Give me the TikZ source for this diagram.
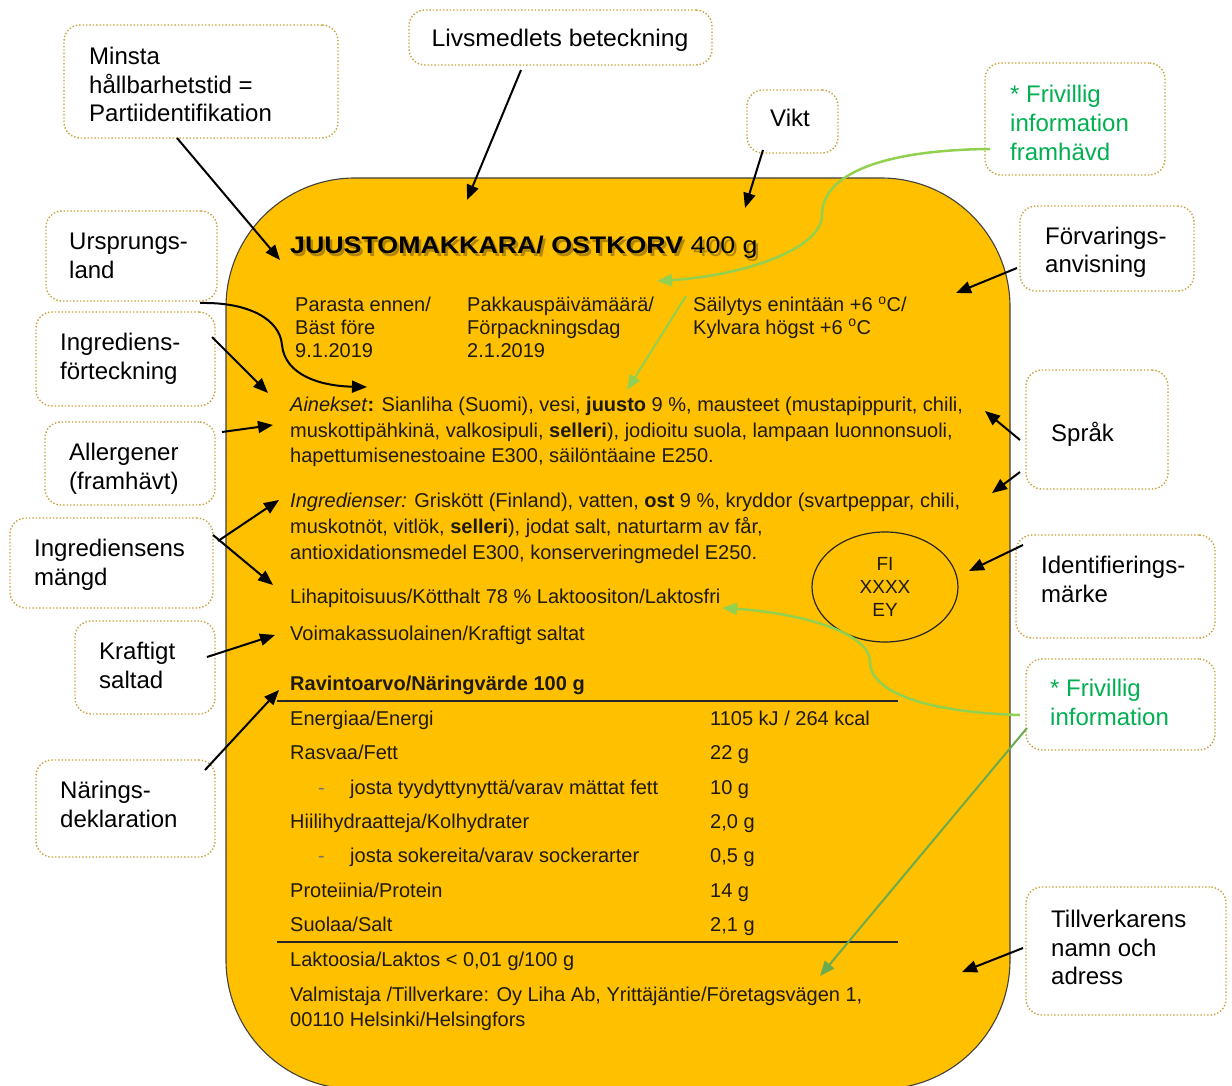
\documentclass[tikz,border=0pt]{standalone}
\usepackage{fontspec}
\setmainfont{Liberation Sans}
\usetikzlibrary{arrows.meta,shapes.geometric}
\definecolor{labelyellow}{HTML}{FFC000}
\definecolor{boxgold}{HTML}{C9A13A}
\definecolor{frivgreen}{HTML}{00B050}
\definecolor{arrgreen}{HTML}{92D050}
\definecolor{arrgreendark}{HTML}{6AAB4F}
\definecolor{bodytext}{HTML}{1E1A12}
\newcommand{\titletext}{\scalebox{1.115}[1]{\textbf{JUUSTOMAKKARA/ OSTKORV} 400 g}}
\begin{document}
\begin{tikzpicture}[x=1pt,y=-1pt,
  lblbox/.style={draw=boxgold, dotted, line width=1.4pt, rounded corners=16pt, inner sep=0pt},
  lt/.style={anchor=base west, inner sep=0pt, text=black, font=\fontsize{24}{29}\selectfont},
  gt/.style={lt, text=frivgreen},
  bt/.style={anchor=base west, inner sep=0pt, text=bodytext, font=\fontsize{20}{24}\selectfont},
  tt/.style={anchor=base west, inner sep=0pt, font=\fontsize{24}{28}\selectfont},
  blk/.style={-{Triangle[length=15pt,width=12pt]}, line width=2pt, black},
  grn/.style={-{Triangle[length=15pt,width=12pt]}, line width=2.5pt, arrgreen},
  grnd/.style={-{Triangle[length=15pt,width=12pt]}, line width=2pt, arrgreendark},
  rule/.style={line width=1.6pt, black!85}
]
\useasboundingbox (0,0) rectangle (1232,1086);
\clip (0,0) rectangle (1232,1086);

% label shape
\draw[fill=labelyellow, draw=black!75, line width=1.1pt, rounded corners=129pt]
  (226,178) rectangle (1010,1089);

% title with soft shadow
\node[tt, text=black, opacity=0.3] (tshadow) at (292.5,256.5) {\titletext};
\node[tt, text=black] (title) at (290,254) {\titletext};

% dates / storage
\node[bt] (bf1) at (295,312) {Parasta ennen/};
\node[bt] (bf2) at (295,334.5) {Bäst före};
\node[bt] (bf3) at (295,357.5) {9.1.2019};
\node[bt] (pk1) at (467,312) {Pakkauspäivämäärä/};
\node[bt] (pk2) at (467,334.5) {Förpackningsdag};
\node[bt] (pk3) at (467,357.5) {2.1.2019};
\node[bt] (st1) at (693,312) {Säilytys enintään +6 \textsuperscript{o}C/};
\node[bt] (st2) at (693,334.5) {Kylvara högst +6 \textsuperscript{o}C};

% ingredients
\node[bt] (fi1) at (290,411) {\textit{Ainekset}\textbf{:} Sianliha (Suomi), vesi, \textbf{juusto} 9 \%, mausteet (mustapippurit, chili,};
\node[bt] (fi2) at (290,437) {muskottipähkinä, valkosipuli, \textbf{selleri}), jodioitu suola, lampaan luonnonsuoli,};
\node[bt] (fi3) at (290,462) {hapettumisenestoaine E300, säilöntäaine E250.};
\node[bt] (sv1) at (290,507) {\textit{Ingredienser:} Griskött (Finland), vatten, \textbf{ost} 9 \%, kryddor (svartpeppar, chili,};
\node[bt] (sv2) at (290,533) {muskotnöt, vitlök, \textbf{selleri}), jodat salt, naturtarm av får,};
\node[bt] (sv3) at (290,559) {antioxidationsmedel E300, konserveringmedel E250.};
\node[bt] (meat) at (290,603) {Lihapitoisuus/Kötthalt 78 \% Laktoositon/Laktosfri};
\node[bt] (salt) at (290,640) {Voimakassuolainen/Kraftigt saltat};

% identification mark
\node[draw=black!85, line width=1.2pt, ellipse, minimum width=146pt, minimum height=110pt, inner sep=0pt,
  align=center, text=bodytext, font=\fontsize{19}{23}\selectfont] (mark) at (885,587) {FI\\XXXX\\EY};

% nutrition table
\node[bt, font=\fontsize{20}{24}\selectfont\bfseries] (nhead) at (290,690.5) {Ravintoarvo/Näringvärde 100 g};
\coordinate (r1a) at (277,701);
\coordinate (r1b) at (898,701);
\draw[rule] (r1a) -- (r1b);
\node[bt] (n1) at (290,725) {Energiaa/Energi};
\node[bt] (v1) at (710,725) {1105 kJ / 264 kcal};
\node[bt] (n2) at (290,759.5) {Rasvaa/Fett};
\node[bt] (v2) at (710,759.5) {22 g};
\node[bt, text=black!55] (d3) at (318,794) {-};
\node[bt] (n3) at (350,794) {josta tyydyttynyttä/varav mättat fett};
\node[bt] (v3) at (710,794) {10 g};
\node[bt] (n4) at (290,828.5) {Hiilihydraatteja/Kolhydrater};
\node[bt] (v4) at (710,828.5) {2,0 g};
\node[bt, text=black!55] (d5) at (318,862.5) {-};
\node[bt] (n5) at (350,862.5) {josta sokereita/varav sockerarter};
\node[bt] (v5) at (710,862.5) {0,5 g};
\node[bt] (n6) at (290,897) {Proteiinia/Protein};
\node[bt] (v6) at (710,897) {14 g};
\node[bt] (n7) at (290,931) {Suolaa/Salt};
\node[bt] (v7) at (710,931) {2,1 g};
\coordinate (r2a) at (277,942);
\coordinate (r2b) at (898,942);
\draw[rule] (r2a) -- (r2b);
\node[bt] (lakt) at (290,966) {Laktoosia/Laktos < 0,01 g/100 g};
\node[bt] (man1) at (290,1001) {Valmistaja /Tillverkare: Oy Liha Ab, Yrittäjäntie/Företagsvägen 1,};
\node[bt] (man2) at (290,1026) {00110 Helsinki/Helsingfors};

% callout boxes
\node[lblbox, minimum width=274pt, minimum height=113pt] (minsta) at (201,81.5) {};
\node[lblbox, minimum width=303pt, minimum height=55pt] (livs) at (560.5,37.5) {};
\node[lblbox, minimum width=91pt, minimum height=63pt] (vikt) at (792.5,121.5) {};
\node[lblbox, minimum width=180pt, minimum height=112pt] (fram) at (1075,119) {};
\node[lblbox, minimum width=174pt, minimum height=85pt] (forv) at (1107,248.5) {};
\node[lblbox, minimum width=171pt, minimum height=90pt] (urs) at (131.5,256) {};
\node[lblbox, minimum width=179pt, minimum height=94pt] (ingf) at (125.5,359) {};
\node[lblbox, minimum width=170pt, minimum height=83pt] (allerg) at (130,463.5) {};
\node[lblbox, minimum width=203pt, minimum height=90pt] (ingm) at (111.5,563) {};
\node[lblbox, minimum width=140pt, minimum height=93pt] (kraf) at (145,667.5) {};
\node[lblbox, minimum width=179pt, minimum height=97pt] (nar) at (125.5,808.5) {};
\node[lblbox, minimum width=142pt, minimum height=119pt] (sprak) at (1097,429.5) {};
\node[lblbox, minimum width=199pt, minimum height=103pt] (ident) at (1115.5,586.5) {};
\node[lblbox, minimum width=189pt, minimum height=91pt] (friv2) at (1120.5,704.5) {};
\node[lblbox, minimum width=200pt, minimum height=128pt] (till) at (1126,951) {};

% callout texts
\node[lt] (minsta1) at (89,64.5) {Minsta};
\node[lt] (minsta2) at (89,93.5) {hållbarhetstid =};
\node[lt] (minsta3) at (89,121.5) {Partiidentifikation};
\node[lt, anchor=base] (livs1) at (560,46.5) {\scalebox{1.03}[1]{Livsmedlets beteckning}};
\node[lt, anchor=base] (vikt1) at (790,126.5) {Vikt};
\node[gt] (fram1) at (1010,102.5) {* Frivillig};
\node[gt] (fram2) at (1010,131.5) {information};
\node[gt] (fram3) at (1010,160.5) {framhävd};
\node[lt] (forv1) at (1045,244.5) {Förvarings-};
\node[lt] (forv2) at (1045,272.5) {anvisning};
\node[lt] (urs1) at (69,249.5) {Ursprungs-};
\node[lt] (urs2) at (69,278.5) {land};
\node[lt] (ingf1) at (60,350.5) {Ingrediens-};
\node[lt] (ingf2) at (60,379.5) {förteckning};
\node[lt] (allerg1) at (69,460.5) {Allergener};
\node[lt] (allerg2) at (69,489.5) {(framhävt)};
\node[lt] (ingm1) at (34,556.5) {Ingrediensens};
\node[lt] (ingm2) at (34,585.5) {mängd};
\node[lt] (kraf1) at (99,659.5) {Kraftigt};
\node[lt] (kraf2) at (99,688.5) {saltad};
\node[lt] (nar1) at (60,798.5) {Närings-};
\node[lt] (nar2) at (60,827.5) {deklaration};
\node[lt] (sprak1) at (1051,441.5) {Språk};
\node[lt] (ident1) at (1041,573.5) {Identifierings-};
\node[lt] (ident2) at (1041,602.5) {märke};
\node[gt] (friv21) at (1050,696.5) {* Frivillig};
\node[gt] (friv22) at (1050,725.5) {information};
\node[lt] (till1) at (1051,927.5) {Tillverkarens};
\node[lt] (till2) at (1051,956.5) {namn och};
\node[lt] (till3) at (1051,984.5) {adress};

% connector end points
\coordinate (aS) at (177,138);   \coordinate (aE) at (280,260);
\coordinate (bS) at (521,70);    \coordinate (bE) at (467,200);
\coordinate (cS) at (763,150);   \coordinate (cE) at (745,208);
\coordinate (dS) at (1017,268);  \coordinate (dE) at (956,293);
\coordinate (eS) at (200,303);   \coordinate (eE) at (367,387);
\coordinate (fS) at (212,337);   \coordinate (fE) at (268,393);
\coordinate (gS) at (222,432);   \coordinate (gE) at (273,425);
\coordinate (hS1) at (213,535);  \coordinate (hE1) at (273,585);
\coordinate (hS2) at (218,541);  \coordinate (hE2) at (279,500);
\coordinate (iS) at (207,657);   \coordinate (iE) at (275,635);
\coordinate (jS) at (205,770);   \coordinate (jE) at (279,690);
\coordinate (kS1) at (1020,440); \coordinate (kE1) at (985,411);
\coordinate (kS2) at (1020,472); \coordinate (kE2) at (992,493);
\coordinate (lS) at (1023,545);  \coordinate (lE) at (969,571);
\coordinate (mS) at (1023,948);  \coordinate (mE) at (962,972);
\coordinate (nS) at (990,149);   \coordinate (nE) at (657,281);
\coordinate (oS) at (686,296);   \coordinate (oE) at (627,390);
\coordinate (pS) at (1020,715);  \coordinate (pE) at (722,608);
\coordinate (qS) at (1027,728);  \coordinate (qE) at (820,976);

% black arrows
\draw[blk] (aS) -- (aE);
\draw[blk] (bS) -- (bE);
\draw[blk] (cS) -- (cE);
\draw[blk] (dS) -- (dE);
\draw[blk] (eS) .. controls (250,302) and (280,320) .. (282,345)
               .. controls (285,375) and (320,386) .. (eE);
\draw[blk] (fS) -- (fE);
\draw[blk] (gS) -- (gE);
\draw[blk] (hS1) -- (hE1);
\draw[blk] (hS2) -- (hE2);
\draw[blk] (iS) -- (iE);
\draw[blk] (jS) -- (jE);
\draw[blk] (kS1) -- (kE1);
\draw[blk] (kS2) -- (kE2);
\draw[blk] (lS) -- (lE);
\draw[blk] (mS) -- (mE);

% green arrows
\draw[grn] (nS) .. controls (880,150) and (822,175) .. (822,215)
               .. controls (822,250) and (740,276) .. (nE);
\draw[grn, line width=2pt] (oS) -- (oE);
\draw[grn] (pS) .. controls (920,712) and (870,690) .. (870,662)
               .. controls (870,630) and (790,612) .. (pE);
\draw[grnd] (qS) -- (qE);
\end{tikzpicture}
\end{document}
